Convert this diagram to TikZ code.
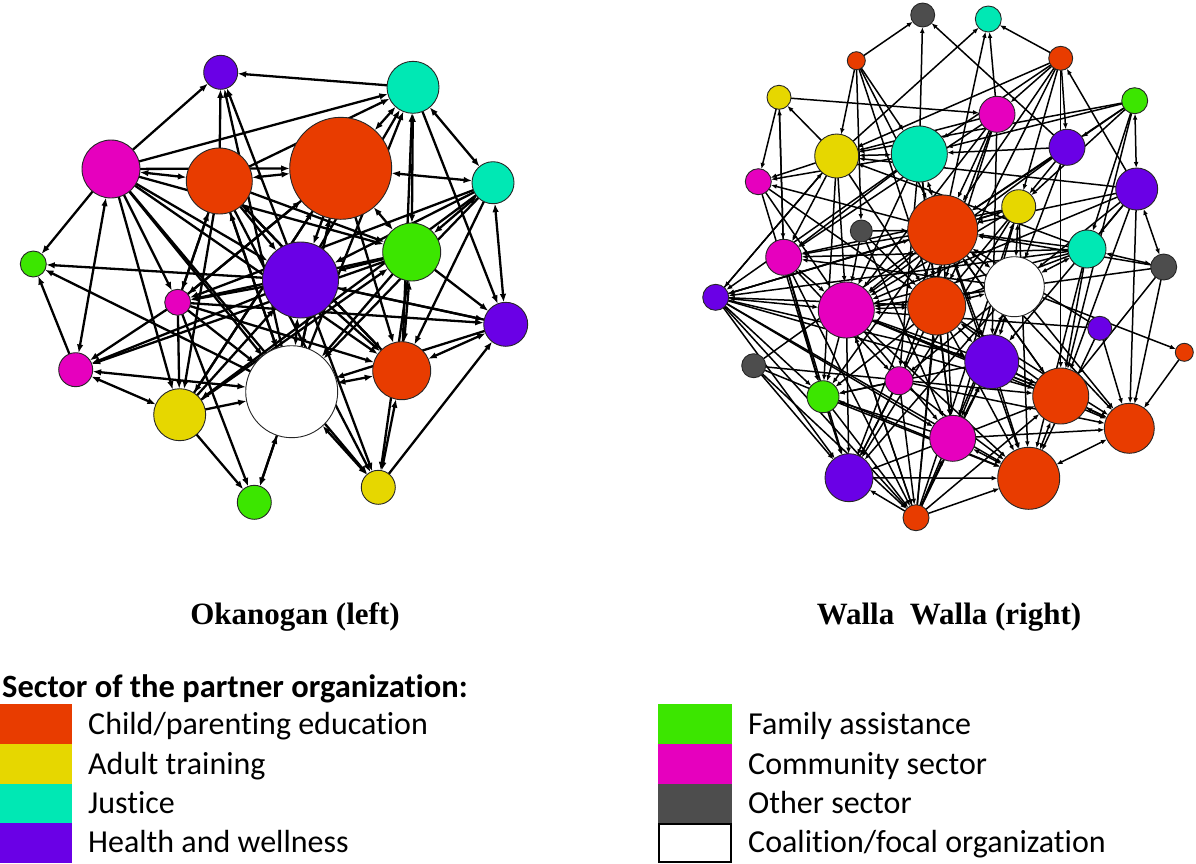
\documentclass[tikz,border=0pt]{standalone}
\usepackage{fontspec}
\setmainfont{Carlito}[RawFeature={-liga}]
\newfontfamily\titlefont{Liberation Serif}
\usetikzlibrary{arrows.meta}
\pgfdeclarelayer{bg}
\pgfsetlayers{bg,main}
\definecolor{cOr}{RGB}{232,60,0}
\definecolor{cYe}{RGB}{230,215,0}
\definecolor{cTe}{RGB}{0,232,180}
\definecolor{cPu}{RGB}{106,0,230}
\definecolor{cGr}{RGB}{60,230,0}
\definecolor{cMa}{RGB}{230,0,190}
\definecolor{cGy}{RGB}{77,77,77}
\begin{document}
\begin{tikzpicture}[x=1pt,y=-1pt,
  nd/.style={circle,draw=black!85,line width=0.9pt,inner sep=0pt,outer sep=0pt},
  le/.style={line width=2.3pt,-{Latex[length=8.5pt,width=6.5pt]}},
  lb/.style={line width=2.3pt,{Latex[length=8.5pt,width=6.5pt]}-{Latex[length=8.5pt,width=6.5pt]}},
  re/.style={line width=1.5pt,-{Latex[length=6pt,width=4.8pt]}},
  rb/.style={line width=1.5pt,{Latex[length=6pt,width=4.8pt]}-{Latex[length=6pt,width=4.8pt]}},
  sw/.style={anchor=north west,minimum width=72pt,minimum height=40pt,inner sep=0pt,outer sep=0pt},
  lt/.style={anchor=base west,inner sep=0pt,font=\fontsize{32}{38}\selectfont}]
\useasboundingbox (0,0) rectangle (1196,863);

% ---------------- left network (Okanogan) ----------------
\node[nd,fill=cPu,minimum size=34pt] (lA) at (220.7,72.3) {};
\node[nd,fill=cTe,minimum size=52pt] (lB) at (413,87.3) {};
\node[nd,fill=cMa,minimum size=58pt] (lC) at (111,169) {};
\node[nd,fill=cOr,minimum size=66pt] (lD) at (219.3,181) {};
\node[nd,fill=cOr,minimum size=102pt] (lE) at (340.7,168.3) {};
\node[nd,fill=cTe,minimum size=42pt] (lF) at (493,182.7) {};
\node[nd,fill=cGr,minimum size=26pt] (lG) at (33.3,264) {};
\node[nd,fill=cGr,minimum size=58pt] (lH) at (411.7,252) {};
\node[nd,fill=cPu,minimum size=76pt] (lI) at (300.5,280) {};
\node[nd,fill=cMa,minimum size=26pt] (lJ) at (177.7,302.3) {};
\node[nd,fill=cPu,minimum size=44pt] (lK) at (505.7,324.3) {};
\node[nd,fill=cMa,minimum size=34pt] (lL) at (75.7,369.7) {};
\node[nd,fill=cOr,minimum size=58pt] (lM) at (401.7,370.7) {};
\node[nd,fill=cYe,minimum size=52pt] (lN) at (179.7,414.7) {};
\node[nd,fill=white,minimum size=92pt] (lO) at (291.7,391.7) {};
\node[nd,fill=cGr,minimum size=34pt] (lP) at (254.3,502.3) {};
\node[nd,fill=cYe,minimum size=34pt] (lQ) at (378.3,487.3) {};

\begin{pgfonlayer}{bg}
\foreach \a/\b in {lB/lA,lC/lA,lD/lA,lI/lA,lO/lA,
  lC/lB,lD/lB,lI/lB,lO/lB,lM/lB,
  lC/lG,lI/lG,lO/lG,lL/lG,
  lJ/lL,lI/lL,lH/lL,
  lN/lO,lN/lP,lO/lP,lJ/lP,
  lC/lN,lJ/lN,lD/lN,lN/lE,lN/lH,lN/lI,
  lQ/lK,lH/lK,lI/lK,lB/lK,lJ/lK,
  lF/lM,lF/lO,lF/lI,lF/lN,
  lH/lO,lH/lI,lH/lJ,
  lE/lI,lE/lO,lE/lM,lE/lJ,lE/lN,
  lD/lI,lD/lO,lD/lM,lD/lH,lD/lQ,lD/lJ,
  lC/lO,lC/lM,lC/lI,lC/lH,lC/lQ,lC/lJ,lC/lE,
  lI/lM,lI/lJ,lI/lQ,
  lJ/lO,lJ/lM,lJ/lE,lJ/lD,
  lH/lQ,lK/lO,lK/lI,lF/lJ,lM/lD,lO/lE,lO/lD}
  \draw[le] (\a) -- (\b);
\foreach \a/\b in {lC/lD,lD/lE,lE/lB,lB/lF,lB/lH,lE/lF,lC/lL,lL/lN,lL/lO,
  lO/lP,lO/lQ,lM/lQ,lM/lK,lF/lK,lF/lH,lI/lO,lO/lM,lH/lM,lE/lH}
  \draw[lb] (\a) -- (\b);
\end{pgfonlayer}

% ---------------- right network (Walla Walla) ----------------
\node[nd,fill=cGy,minimum size=24pt] (r1) at (922.7,15) {};
\node[nd,fill=cOr,minimum size=18pt] (r2) at (856.3,60.7) {};
\node[nd,fill=cYe,minimum size=24pt] (r3) at (779,97.3) {};
\node[nd,fill=cYe,minimum size=44pt] (r4) at (836.7,156) {};
\node[nd,fill=cTe,minimum size=56pt] (r5) at (919.3,154) {};
\node[nd,fill=cMa,minimum size=26pt] (r6) at (758.3,181.7) {};
\node[nd,fill=cGy,minimum size=22pt] (r7) at (861.3,231) {};
\node[nd,fill=cMa,minimum size=36pt] (r8) at (783.7,257.3) {};
\node[nd,fill=cOr,minimum size=70pt] (r9) at (942.7,230) {};
\node[nd,fill=cTe,minimum size=26pt] (r10) at (988.3,19) {};
\node[nd,fill=cOr,minimum size=24pt] (r11) at (1060.7,58.3) {};
\node[nd,fill=cGr,minimum size=26pt] (r12) at (1134.7,100.7) {};
\node[nd,fill=cMa,minimum size=36pt] (r13) at (997,114.3) {};
\node[nd,fill=cPu,minimum size=36pt] (r14) at (1067,147.3) {};
\node[nd,fill=cPu,minimum size=42pt] (r15) at (1136.7,189) {};
\node[nd,fill=cYe,minimum size=34pt] (r16) at (1018.7,206.7) {};
\node[nd,fill=cTe,minimum size=38pt] (r17) at (1087,249) {};
\node[nd,fill=cGy,minimum size=26pt] (r18) at (1163.7,267) {};
\node[nd,fill=cPu,minimum size=26pt] (r19) at (715.7,297.3) {};
\node[nd,fill=cMa,minimum size=56pt] (r20) at (846.3,310) {};
\node[nd,fill=cOr,minimum size=58pt] (r21) at (936.7,306) {};
\node[nd,fill=cGy,minimum size=24pt] (r22) at (753.7,365.7) {};
\node[nd,fill=cMa,minimum size=28pt] (r23) at (899,380.7) {};
\node[nd,fill=cGr,minimum size=32pt] (r24) at (823,396.7) {};
\node[nd,fill=cPu,minimum size=48pt] (r25) at (849,477.7) {};
\node[nd,fill=cOr,minimum size=26pt] (r26) at (916,517.7) {};
\node[nd,fill=cMa,minimum size=46pt] (r27) at (952.7,438.3) {};
\node[nd,fill=cPu,minimum size=54pt] (r28) at (991.7,361.7) {};
\node[nd,fill=cPu,minimum size=24pt] (r29) at (1099.7,328.3) {};
\node[nd,fill=cOr,minimum size=18pt] (r30) at (1184.3,352.3) {};
\node[nd,fill=cOr,minimum size=56pt] (r31) at (1060.7,396) {};
\node[nd,fill=cOr,minimum size=50pt] (r32) at (1129.3,428.3) {};
\node[nd,fill=cOr,minimum size=62pt] (r33) at (1028.7,478.3) {};
\node[nd,fill=white,minimum size=60pt] (rW) at (1014.3,286.7) {};

\begin{pgfonlayer}{bg}
\foreach \a/\b in {r2/r1,r5/r1,r14/r1,
  r4/r10,r13/r10,r9/r10,r11/r10,
  r2/r4,r2/r5,r2/r9,r2/r7,r2/r21,
  r3/r6,r3/r8,r3/r13,r4/r3,r8/r3,
  r11/r13,r11/r14,r11/r5,r11/r9,r11/r16,r11/r31,r11/r21,r11/r4,r15/r11,
  r12/r5,r12/r14,r12/r16,r12/r9,r12/r17,r12/r31,r12/r4,
  r14/r16,r14/r9,r14/rW,r14/r5,r14/r20,
  r15/r17,r15/r32,r15/r31,r15/rW,r15/r9,r15/r20,r15/r4,r15/r28,
  r18/r32,r18/r31,r18/r20,r18/r9,
  r29/r32,r29/r9,r29/r20,r29/r33,
  r30/r32,rW/r30,
  r19/r4,r19/r21,r19/r9,r19/r25,r19/r33,r19/r31,r19/r26,r19/r24,r19/r27,r19/r28,
  r4/r19,r5/r19,r9/r19,r16/r19,r17/r19,
  r22/r25,r22/r31,r22/r9,r22/r26,r22/r33,
  r23/r24,r20/r24,r8/r24,r21/r24,r9/r24,r6/r24,
  r24/r25,r24/r26,r24/r33,
  r26/r25,r26/r33,r26/r27,r26/r21,r26/rW,r26/r20,r26/r9,r26/r28,r26/r31,r26/r16,
  r8/r25,r8/r26,r23/r26,r25/r33,r8/r23,
  r13/r9,r13/r20,r13/r21,r13/r8,r13/r4,r13/r23,r13/r28,
  r16/r20,r16/r21,r16/r8,r16/r27,r16/r33,r16/r25,
  r17/r20,r17/r21,r17/r9,r17/r33,r17/r31,r17/r8,r17/r4,
  r7/r20,r7/r21,r7/r27,r7/r9,
  r6/r20,r6/r21,r4/r6,r9/r6,r5/r6,
  r4/r8,r4/r20,r4/r21,r4/r24,
  r5/r8,r5/r20,r5/r21,r5/r23,r5/r27,
  r9/r8,r9/r20,r9/r25,r9/r27,r9/r33,r9/r31,r9/r32,
  rW/r20,rW/r23,rW/r25,rW/r27,rW/r32,rW/r8,
  r21/r27,r21/r33,r21/r25,r21/r32,
  r28/r20,r28/r33,r28/r31,r28/r32,r28/r24,
  r23/r33,r23/r25,r23/r32,
  r27/r31,r27/r32,r27/r24,
  r31/r21,r31/r20,r31/r9,
  r20/r27,r20/r33,r20/r31,r20/r32,r20/r25,r20/r26,
  r27/r25}
  \draw[re] (\a) -- (\b);
\foreach \a/\b in {r9/r21,r9/rW,r21/rW,r28/rW,r21/r28,r31/r33,r32/r33,r12/r15,
  r15/r18,r20/r19,r9/r5,r9/r16,r20/r8,r20/r21,r31/r32,r33/r27,r28/r27,
  r17/r18,r4/r5,r16/rW,r17/rW,r9/r28}
  \draw[rb] (\a) -- (\b);
\end{pgfonlayer}

% ---------------- titles ----------------
\node[anchor=base,inner sep=0pt,font=\titlefont\bfseries\fontsize{31}{36}\selectfont] (tl) at (295,624) {Okanogan (left)};
\node[anchor=base,inner sep=0pt,font=\titlefont\bfseries\fontsize{31}{36}\selectfont] (tr) at (949,624) {Walla\ \ Walla (right)};

% ---------------- legend ----------------
\node[anchor=base west,inner sep=0pt,font=\bfseries\fontsize{32.5}{38}\selectfont] (lh) at (2,697) {Sector of the partner organization:};
\node[sw,fill=cOr] (s1) at (0,703.5) {};
\node[sw,fill=cYe] (s2) at (0,743.5) {};
\node[sw,fill=cTe] (s3) at (0,783.5) {};
\node[sw,fill=cPu] (s4) at (0,823) {};
\node[sw,fill=cGr,minimum width=74pt] (s5) at (658,703.5) {};
\node[sw,fill=cMa,minimum width=74pt] (s6) at (658,743.5) {};
\node[sw,fill=cGy,minimum width=74pt] (s7) at (658,783.5) {};
\node[sw,fill=white,draw=black,line width=2pt,minimum width=72pt,minimum height=38pt] (s8) at (659,824) {};
\node[lt] (t1) at (88,734) {Child/parenting education};
\node[lt] (t2) at (88,774) {Adult training};
\node[lt] (t3) at (88,813.5) {Justice};
\node[lt] (t4) at (88,852.5) {Health and wellness};
\node[lt] (t5) at (748,734) {Family assistance};
\node[lt] (t6) at (748,774) {Community sector};
\node[lt] (t7) at (748,813.5) {Other sector};
\node[lt] (t8) at (748,852.5) {Coalition/focal organization};
\end{tikzpicture}
\end{document}
